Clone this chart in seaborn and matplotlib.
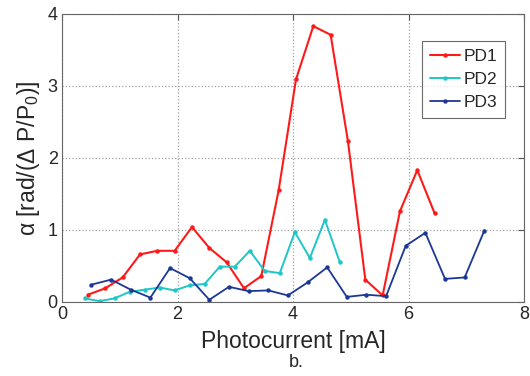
import matplotlib
matplotlib.use('Agg')
import matplotlib.pyplot as plt
import seaborn as sns
import pandas as pd

# ── Data ────────────────────────────────────────────────────────────
pd1_x = [0.45, 0.75, 1.05, 1.35, 1.65, 1.95, 2.25, 2.55, 2.85, 3.15, 3.45,
         3.75, 4.05, 4.35, 4.65, 4.95, 5.25, 5.55, 5.85, 6.15, 6.45]
pd1_y = [0.10, 0.19, 0.34, 0.66, 0.71, 0.71, 1.04, 0.75, 0.55, 0.19, 0.36,
         1.55, 3.09, 3.83, 3.71, 2.23, 0.31, 0.09, 1.26, 1.83, 1.23]

pd2_x = [0.39, 0.65, 0.91, 1.17, 1.43, 1.69, 1.95, 2.21, 2.47, 2.73, 2.99,
         3.25, 3.51, 3.77, 4.03, 4.29, 4.55, 4.81]
pd2_y = [0.05, 0.01, 0.05, 0.14, 0.17, 0.20, 0.16, 0.23, 0.25, 0.49, 0.49,
         0.71, 0.43, 0.40, 0.97, 0.61, 1.14, 0.55]

pd3_x = [0.51, 0.85, 1.19, 1.53, 1.87, 2.21, 2.55, 2.89, 3.23, 3.57, 3.91,
         4.25, 4.59, 4.93, 5.27, 5.61, 5.95, 6.29, 6.63, 6.97, 7.31]
pd3_y = [0.24, 0.31, 0.17, 0.06, 0.47, 0.33, 0.03, 0.21, 0.15, 0.16, 0.09,
         0.27, 0.48, 0.07, 0.10, 0.08, 0.78, 0.96, 0.32, 0.34, 0.99]

series = ['PD1', 'PD2', 'PD3']
colors = {'PD1': '#ff1a1a', 'PD2': '#1fc6c6', 'PD3': '#1c3896'}
widths = {'PD1': 1.5, 'PD2': 1.4, 'PD3': 1.3}

df = pd.concat([
    pd.DataFrame({'x': pd1_x, 'y': pd1_y, 'name': 'PD1'}),
    pd.DataFrame({'x': pd2_x, 'y': pd2_y, 'name': 'PD2'}),
    pd.DataFrame({'x': pd3_x, 'y': pd3_y, 'name': 'PD3'}),
])

sns.set_style('white')
plt.rcParams['font.family'] = ['Liberation Sans', 'DejaVu Sans']
plt.rcParams['mathtext.default'] = 'regular'

fig = plt.figure(figsize=(5.30, 3.76), dpi=100)
ax = fig.add_axes([0.117, 0.197, 0.872, 0.766])

for name in series:
    sub = df[df['name'] == name]
    sns.lineplot(data=sub, x='x', y='y', ax=ax, sort=False, color=colors[name],
                 linewidth=widths[name], marker='o', markersize=3.2,
                 markeredgewidth=0, label=name)

ax.set_xlim(0, 8)
ax.set_ylim(0, 4)
ax.set_xticks([0, 2, 4, 6, 8])
ax.set_yticks([0, 1, 2, 3, 4])
ax.grid(True, linestyle=':', color='#a0a0a0', linewidth=0.9)
ax.tick_params(direction='in', labelsize=13, length=4, color='#555555',
               top=True, right=True, pad=3)
for s in ax.spines.values():
    s.set_color('#666666')
    s.set_linewidth(0.8)

ax.set_xlabel('Photocurrent [mA]', fontsize=16.5, labelpad=5)
ax.set_ylabel('α [rad/(Δ P/P$_0$)]', fontsize=16.5, labelpad=4)

leg = ax.legend(loc='upper right', bbox_to_anchor=(0.959, 0.906), fontsize=12.5,
                frameon=True, fancybox=False, handlelength=1.75, handletextpad=0.2,
                borderpad=0.45, labelspacing=0.45, borderaxespad=0)
leg.get_frame().set_edgecolor('#444444')
leg.get_frame().set_linewidth(0.8)

fig.text(0.558, 0.037, 'b.', fontsize=13, ha='center', va='center')

fig.savefig('out.png', dpi=100)
